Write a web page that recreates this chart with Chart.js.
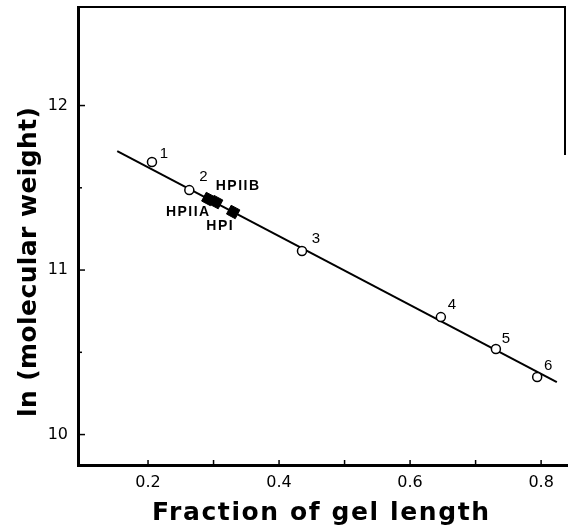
<!DOCTYPE html>
<html>
<head>
<meta charset="utf-8">
<script src="https://cdn.jsdelivr.net/npm/chart.js@4"></script>
<style>
  body { margin: 0; background: #fff; }
  canvas { display: block; }
</style>
</head>
<body>
<canvas id="gelChart" width="568" height="530"></canvas>
<script>
// standards (open circles)
const stdNames = ['1', '2', '3', '4', '5', '6'];
const stdX = [0.206, 0.263, 0.435, 0.647, 0.731, 0.794];
const stdY = [11.657, 11.486, 11.116, 10.714, 10.520, 10.350];

// samples (filled squares)
const hpNames = ['HPIIA', 'HPIIB', 'HPI'];
const hpX = [0.292, 0.304, 0.330];
const hpY = [11.432, 11.413, 11.353];

// fitted line ends
const fitX = [0.153, 0.824];
const fitY = [11.723, 10.319];

const xTicks = [0.2, 0.3, 0.4, 0.5, 0.6, 0.7, 0.8];
const yTicks = [10, 10.5, 11, 11.5, 12];

const xTitle = 'Fraction of gel length';
const yTitle = 'ln (molecular weight)';

const toPts = (xs, ys) => xs.map((x, i) => ({ x: x, y: ys[i] }));

// label offsets in px from the mark
const stdOffsets = [[12, -8], [14, -13], [14, -12], [11, -12], [10, -10], [11, -11]];
const hpOffsets = [[-20, 13], [22, -16], [-13, 14]];

function fitText(ctx, text, width) {
  ctx.letterSpacing = '0px';
  const w = ctx.measureText(text).width;
  const sp = (width - w) / (text.length - 1);
  if ('letterSpacing' in ctx) ctx.letterSpacing = sp + 'px';
}

const framePlugin = {
  id: 'frame',
  afterDraw(chart) {
    const ctx = chart.ctx;
    const a = chart.chartArea;
    const xs = chart.scales.x, ys = chart.scales.y;
    ctx.save();
    ctx.strokeStyle = '#000';
    ctx.lineCap = 'butt';
    // top line and the short piece of right border
    ctx.lineWidth = 2;
    ctx.beginPath();
    ctx.moveTo(a.left, a.top);
    ctx.lineTo(a.right - 1, a.top);
    ctx.lineTo(a.right - 1, ys.getPixelForValue(11.7));
    ctx.stroke();
    // bottom axis runs off the edge
    ctx.lineWidth = 3;
    ctx.beginPath();
    ctx.moveTo(a.right - 2, a.bottom + 0.5);
    ctx.lineTo(chart.width, a.bottom + 0.5);
    ctx.stroke();
    // inward ticks
    ctx.lineWidth = 1.5;
    yTicks.forEach(v => {
      const y = ys.getPixelForValue(v);
      const len = Number.isInteger(v) ? 7 : 4;
      ctx.beginPath();
      ctx.moveTo(a.left, y);
      ctx.lineTo(a.left + len, y);
      ctx.stroke();
    });
    xTicks.forEach(v => {
      const x = xs.getPixelForValue(v);
      ctx.beginPath();
      ctx.moveTo(x, a.bottom);
      ctx.lineTo(x, a.bottom - 5);
      ctx.stroke();
    });

    // point labels
    ctx.fillStyle = '#000';
    ctx.textAlign = 'center';
    ctx.textBaseline = 'middle';
    ctx.font = '15px "Liberation Sans", sans-serif';
    chart.getDatasetMeta(0).data.forEach((pt, i) => {
      ctx.fillText(stdNames[i], pt.x + stdOffsets[i][0], pt.y + stdOffsets[i][1]);
    });
    ctx.font = 'bold 14px "Liberation Sans", sans-serif';
    if ('letterSpacing' in ctx) ctx.letterSpacing = '1.5px';
    chart.getDatasetMeta(1).data.forEach((pt, i) => {
      ctx.fillText(hpNames[i], pt.x + hpOffsets[i][0], pt.y + hpOffsets[i][1]);
    });

    // axis titles
    ctx.textAlign = 'left';
    ctx.textBaseline = 'alphabetic';
    ctx.font = 'bold 25px "DejaVu Sans", sans-serif';
    fitText(ctx, xTitle, 337);
    ctx.fillText(xTitle, 152, 520);

    ctx.font = 'bold 25px "DejaVu Sans", sans-serif';
    fitText(ctx, yTitle, 310);
    ctx.translate(36, 417);
    ctx.rotate(-Math.PI / 2);
    ctx.fillText(yTitle, 0, 0);
    ctx.restore();
  }
};

new Chart('gelChart', {
  type: 'scatter',
  data: {
    datasets: [
      {
        data: toPts(stdX, stdY),
        order: 1,
        pointStyle: 'circle',
        pointRadius: 4.5,
        pointBackgroundColor: '#fff',
        pointBorderColor: '#000',
        pointBorderWidth: 1.5
      },
      {
        data: toPts(hpX, hpY),
        order: 1,
        pointStyle: 'rect',
        pointRadius: 7,
        pointRotation: 28,
        pointBackgroundColor: '#000',
        pointBorderColor: '#000',
        pointBorderWidth: 1
      },
      {
        data: toPts(fitX, fitY),
        order: 2,
        showLine: true,
        borderColor: '#000',
        borderWidth: 2,
        pointRadius: 0
      }
    ]
  },
  options: {
    responsive: false,
    animation: false,
    layout: { autoPadding: false, padding: { top: 7, right: 2, left: 0, bottom: 0 } },
    plugins: {
      legend: { display: false },
      tooltip: { enabled: false }
    },
    scales: {
      x: {
        type: 'linear',
        min: 0.0931,
        max: 0.838,
        afterFit: s => { s.height = 65; s.paddingLeft = 0; s.paddingRight = 0; },
        afterBuildTicks: s => { s.ticks = xTicks.map(v => ({ value: v })); },
        grid: { display: false, drawTicks: false },
        border: { display: true, color: '#000', width: 3 },
        ticks: {
          color: '#000',
          padding: 8,
          maxRotation: 0,
          font: { family: '"DejaVu Sans", sans-serif', size: 16 },
          callback: v => (Math.round(v * 10) % 2 === 0 ? v.toFixed(1) : '')
        }
      },
      y: {
        type: 'linear',
        min: 9.815,
        max: 12.599,
        afterFit: s => { s.width = 78; s.paddingTop = 0; s.paddingBottom = 0; },
        afterBuildTicks: s => { s.ticks = yTicks.map(v => ({ value: v })); },
        grid: { display: false, drawTicks: false },
        border: { display: true, color: '#000', width: 3 },
        ticks: {
          color: '#000',
          padding: 10,
          font: { family: '"DejaVu Sans", sans-serif', size: 16 },
          callback: v => (Number.isInteger(v) ? String(v) : '')
        }
      }
    }
  },
  plugins: [framePlugin]
});
</script>
</body>
</html>
